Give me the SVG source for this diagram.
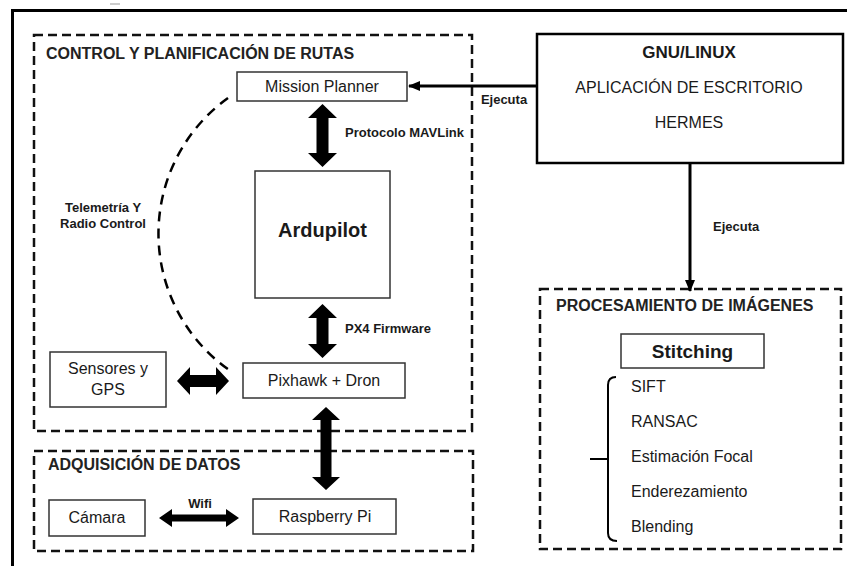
<svg xmlns="http://www.w3.org/2000/svg" width="847" height="566" viewBox="0 0 847 566">
<style>
text{font-family:"Liberation Sans",Arial,sans-serif;fill:#1a1a1a}
.t{font-size:16px;font-weight:bold;fill:#222}
.n{font-size:16px}
.l{font-size:13px;font-weight:bold}
.c{text-anchor:middle}
.box{fill:#fff;stroke:#333;stroke-width:1.5}
.grp{fill:none;stroke:#111;stroke-width:2.5;stroke-dasharray:9 5}
.fat{fill:#000;stroke:none}
</style>
<defs>
<marker id="ah" viewBox="0 0 12 10" refX="11" refY="5" markerWidth="12" markerHeight="10" markerUnits="userSpaceOnUse" orient="auto">
<path d="M0,0 L12,5 L0,10 Z" fill="#000"/>
</marker>
</defs>
<rect width="847" height="566" fill="#fff"/>
<line x1="110" y1="4" x2="120" y2="4" stroke="#999" stroke-width="1"/>
<path d="M12.5,566 V10.5 H847" fill="none" stroke="#000" stroke-width="3"/>

<g id="grp-control">
<rect class="grp" x="34" y="35" width="438" height="396"/>
<text class="t" x="46" y="59">CONTROL Y PLANIFICACIÓN DE RUTAS</text>
</g>
<g id="grp-adquisicion">
<rect class="grp" x="34" y="451" width="439" height="100"/>
<text class="t" x="48" y="470">ADQUISICIÓN DE DATOS</text>
</g>
<g id="grp-procesamiento">
<rect class="grp" x="540" y="289" width="301" height="260"/>
<text class="t" x="556" y="311">PROCESAMIENTO DE IMÁGENES</text>
</g>

<g id="connectors">
<line x1="537" y1="86" x2="409" y2="86" stroke="#000" stroke-width="3" marker-end="url(#ah)"/>
<text class="l c" x="504" y="104">Ejecuta</text>
<line x1="690" y1="163" x2="690" y2="291" stroke="#000" stroke-width="3" marker-end="url(#ah)"/>
<text class="l" x="713" y="231">Ejecuta</text>
<polygon class="fat" points="322.5,104 337,118 328.5,118 328.5,153 337,153 322.5,167 308,153 316.5,153 316.5,118 308,118"/>
<text class="l" x="345" y="137">Protocolo MAVLink</text>
<polygon class="fat" points="322.5,304 337,318 328.5,318 328.5,344 337,344 322.5,358 308,344 316.5,344 316.5,318 308,318"/>
<text class="l" x="345" y="333">PX4 Firmware</text>
<polygon class="fat" points="326,407 340,420 331.5,420 331.5,477 340,477 326,490 312,477 320.5,477 320.5,420 312,420"/>
<polygon class="fat" points="177,381 190,367 190,375 216,375 216,367 229,381 216,395 216,387 190,387 190,395"/>
<polygon class="fat" points="159,518 172,509 172,514.5 226,514.5 226,509 239,518 226,527 226,521.5 172,521.5 172,527"/>
<text class="l c" x="200" y="508">Wifi</text>
<path d="M228,98 A167,167 0 0 0 232,372" fill="none" stroke="#000" stroke-width="2.5" stroke-dasharray="10 7"/>
<text class="l c" x="103" y="212">Telemetría Y</text>
<text class="l c" x="103" y="228">Radio Control</text>
<path d="M616,377 Q608,377 608,385 L608,533 Q608,541 617,541 M590,459 L608,459" fill="none" stroke="#000" stroke-width="2"/>
</g>

<g id="gnu">
<rect x="537" y="34" width="306" height="129" fill="#fff" stroke="#000" stroke-width="2.5"/>
<text class="c" x="689" y="58" font-size="17" font-weight="bold">GNU/LINUX</text>
<text class="n c" x="689" y="93">APLICACIÓN DE ESCRITORIO</text>
<text class="n c" x="689" y="128">HERMES</text>
</g>
<g id="mission-planner">
<rect class="box" x="237" y="72" width="170" height="29"/>
<text class="n c" x="322" y="92">Mission Planner</text>
</g>
<g id="ardupilot">
<rect class="box" x="255" y="171" width="135" height="127"/>
<text class="c" x="322.5" y="237" font-size="20" font-weight="bold">Ardupilot</text>
</g>
<g id="pixhawk">
<rect class="box" x="243" y="363" width="162" height="35"/>
<text class="n c" x="324" y="386">Pixhawk + Dron</text>
</g>
<g id="sensores">
<rect class="box" x="50" y="352" width="116" height="55"/>
<text class="n c" x="108" y="374">Sensores y</text>
<text class="n c" x="108" y="395">GPS</text>
</g>
<g id="camara">
<rect class="box" x="49" y="500" width="96" height="36"/>
<text class="n c" x="97" y="523">Cámara</text>
</g>
<g id="raspberry">
<rect class="box" x="253" y="499" width="143" height="35"/>
<text class="n c" x="325" y="522">Raspberry Pi</text>
</g>
<g id="stitching">
<rect class="box" x="621" y="334" width="143" height="34"/>
<text class="c" x="692.5" y="358" font-size="19" font-weight="bold">Stitching</text>
</g>
<g id="steps">
<text class="n" x="631" y="392">SIFT</text>
<text class="n" x="631" y="427">RANSAC</text>
<text class="n" x="631" y="462">Estimación Focal</text>
<text class="n" x="631" y="497">Enderezamiento</text>
<text class="n" x="631" y="532">Blending</text>
</g>
</svg>
